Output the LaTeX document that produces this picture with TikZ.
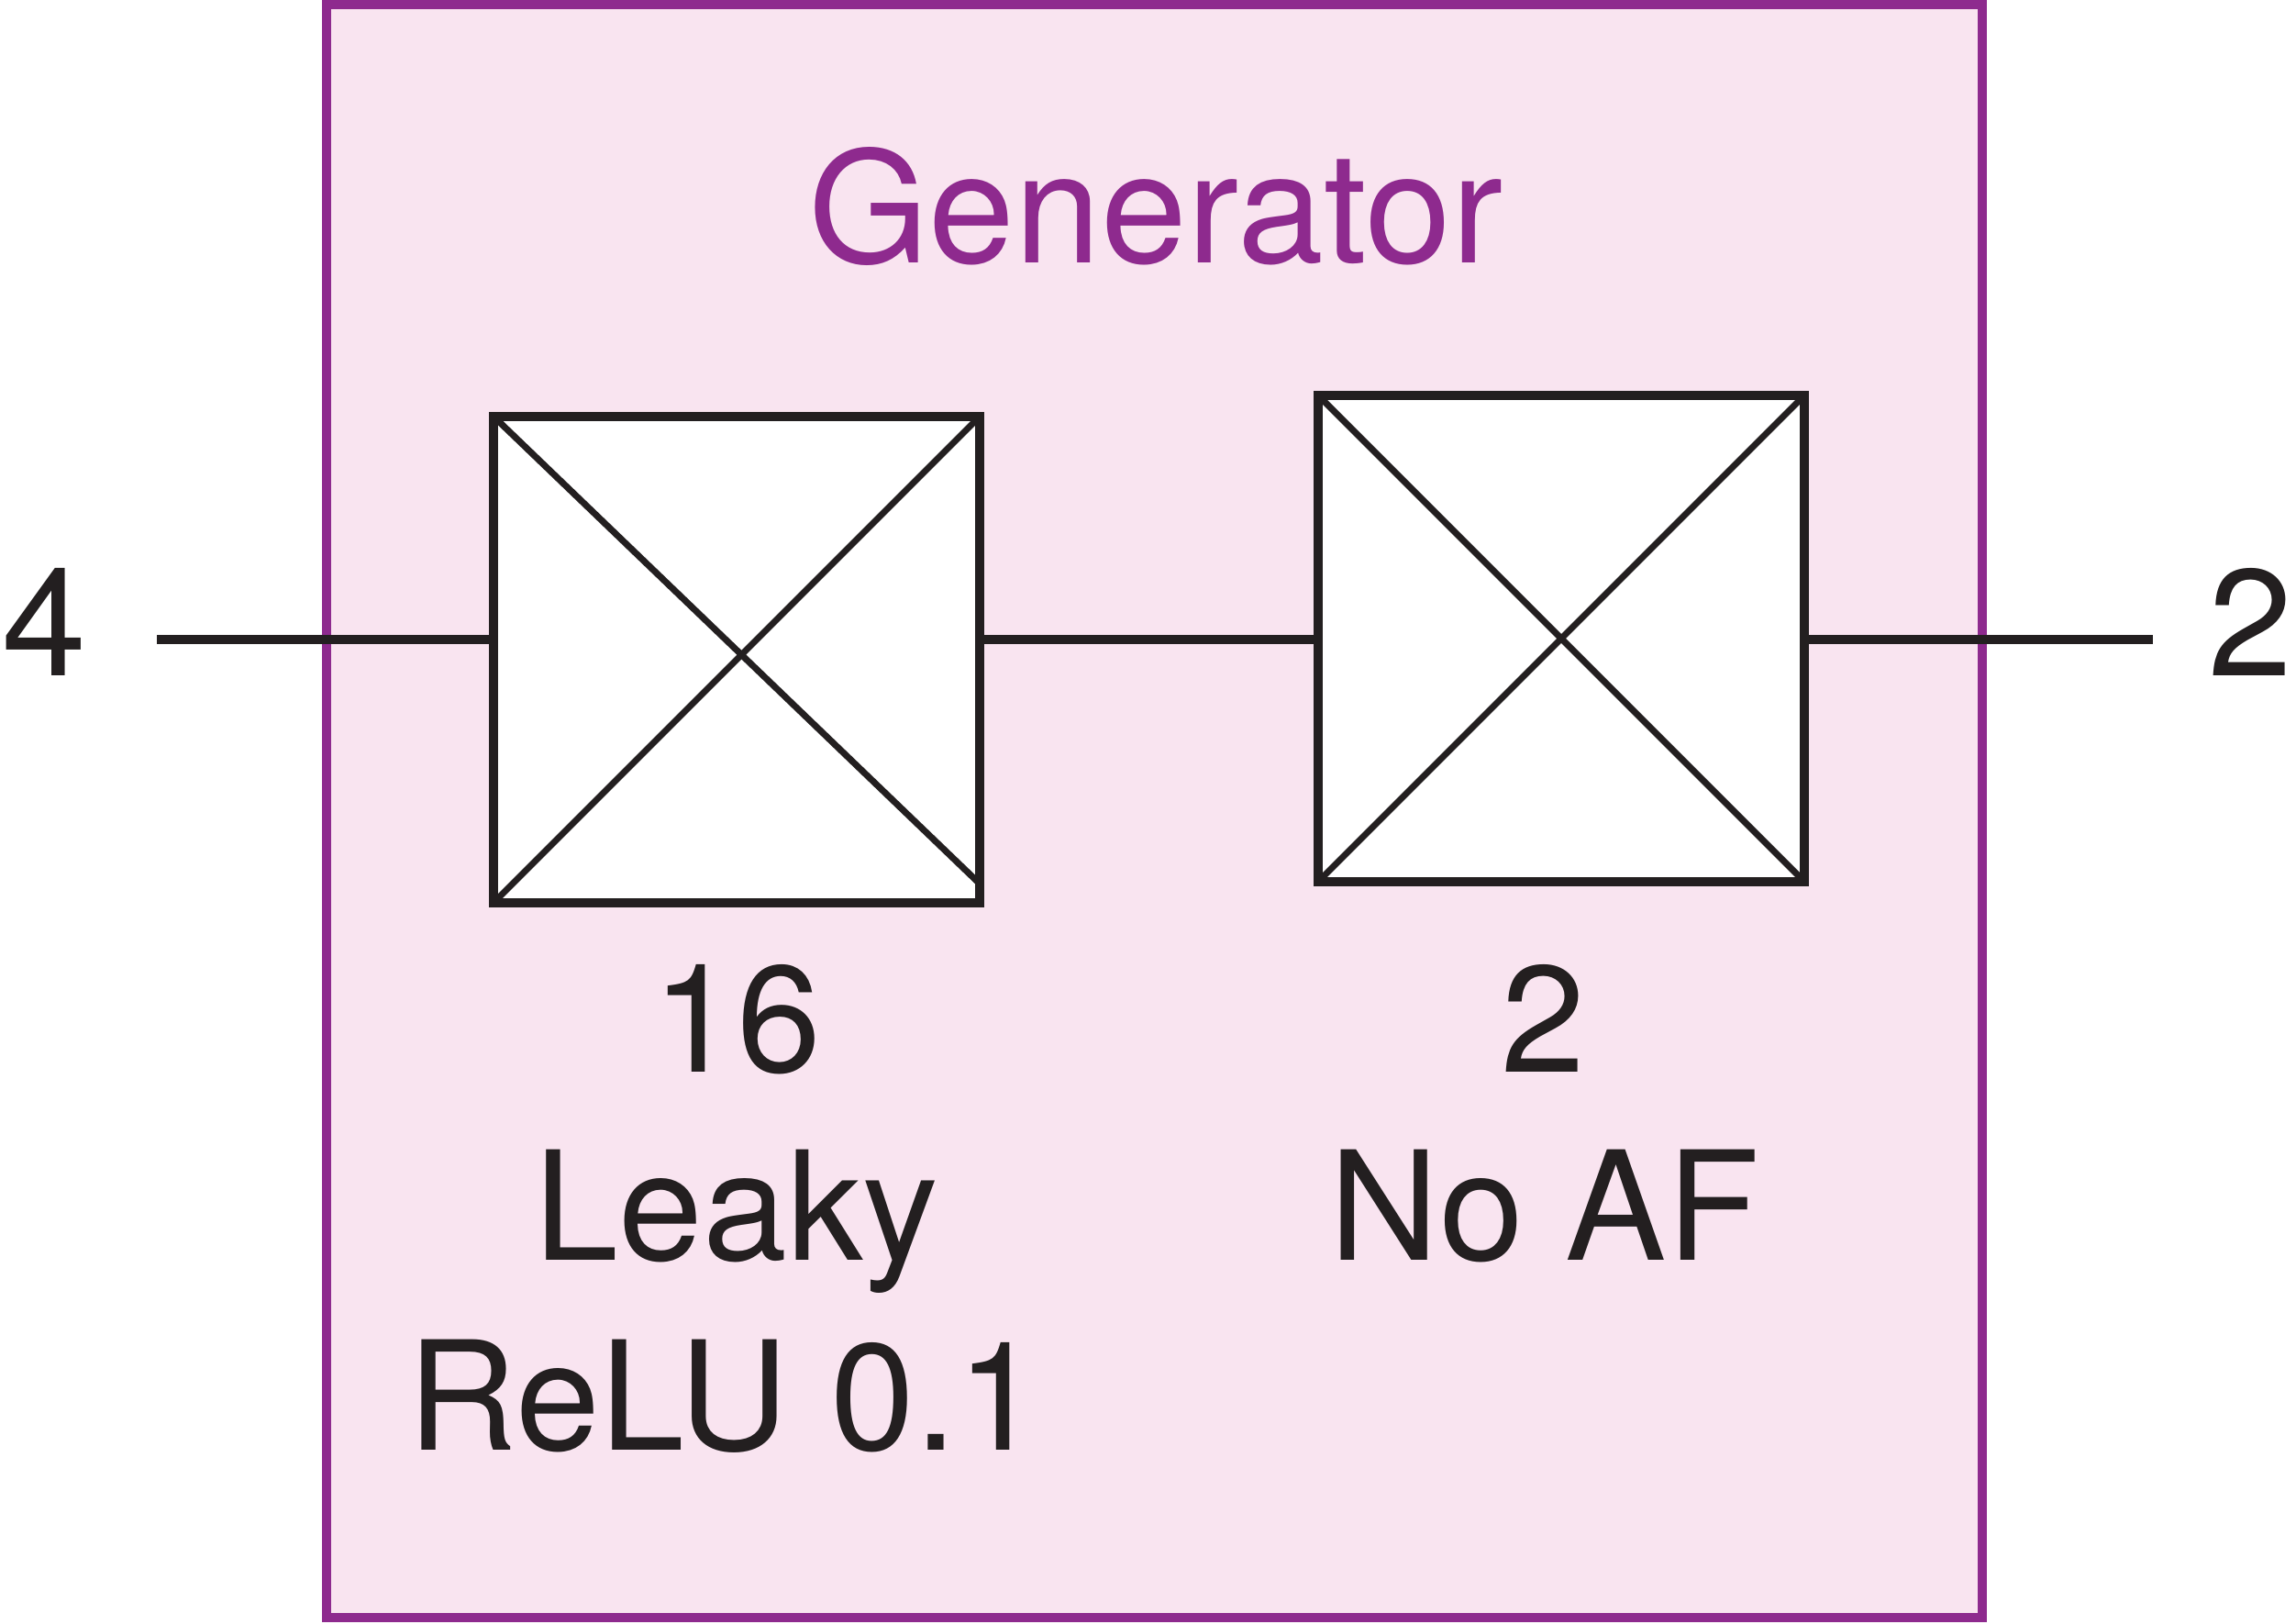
\documentclass[tikz,border=0pt]{standalone}
\usepackage{fontspec}
\setmainfont{TeX Gyre Heros}
\definecolor{genpurple}{RGB}{142,42,142}
\definecolor{genpink}{RGB}{249,228,240}
\definecolor{inkblack}{RGB}{35,31,32}
\tikzset{
  genbox/.style={draw=genpurple, fill=genpink, line width=2.85pt, inner sep=0pt},
  layerbox/.style={draw=inkblack, fill=white, line width=2.85pt, inner sep=0pt, minimum size=5.3cm},
  wire/.style={draw=inkblack, line width=2.85pt},
  cross/.style={draw=inkblack, line width=2pt, shorten <=1.5pt, shorten >=1.5pt},
  lbl/.style={anchor=base, inner sep=0pt, text=inkblack, font=\fontsize{47}{56}\selectfont}
}
\begin{document}
\begin{tikzpicture}
    \useasboundingbox (0,0) rectangle (25.03,17.69);
    \node[genbox, minimum width=18.05cm, minimum height=17.58cm] (gen) at (12.585,8.85) {};
    \node[lbl, text=genpurple, font=\fontsize{48}{56}\selectfont] (title) at (12.60,14.82) {Generator};
    % the two dense layers
    \node[layerbox] (hidden) at (8.03,10.50) {};
    \node[layerbox] (outl) at (17.02,10.73) {};
    \draw[cross] (hidden.north west) -- ([yshift=0.21cm]hidden.south east);
    \draw[cross] (hidden.south west) -- (hidden.north east);
    \draw[cross] (outl.north west) -- (outl.south east);
    \draw[cross] (outl.south west) -- (outl.north east);
    % input and output
    \coordinate (in) at (1.71,10.72);
    \coordinate (out) at (23.47,10.72);
    \node[lbl] (inlab) at (0.48,10.32) {4};
    \node[lbl] (outlab) at (24.53,10.32) {2};
    \draw[wire] (in) -- (in -| hidden.west);
    \draw[wire] (in -| hidden.east) -- (in -| outl.west);
    \draw[wire] (in -| outl.east) -- (out);
    % layer labels
    \node[lbl] (hn) at (8.03,6.01) {16};
    \node[lbl] (ha) at (8.03,3.96) {Leaky};
    \node[lbl] (hb) at (7.90,1.89) {ReLU 0.1};
    \node[lbl] (on) at (16.82,6.01) {2};
    \node[lbl] (oa) at (16.84,3.96) {No AF};
\end{tikzpicture}
\end{document}
